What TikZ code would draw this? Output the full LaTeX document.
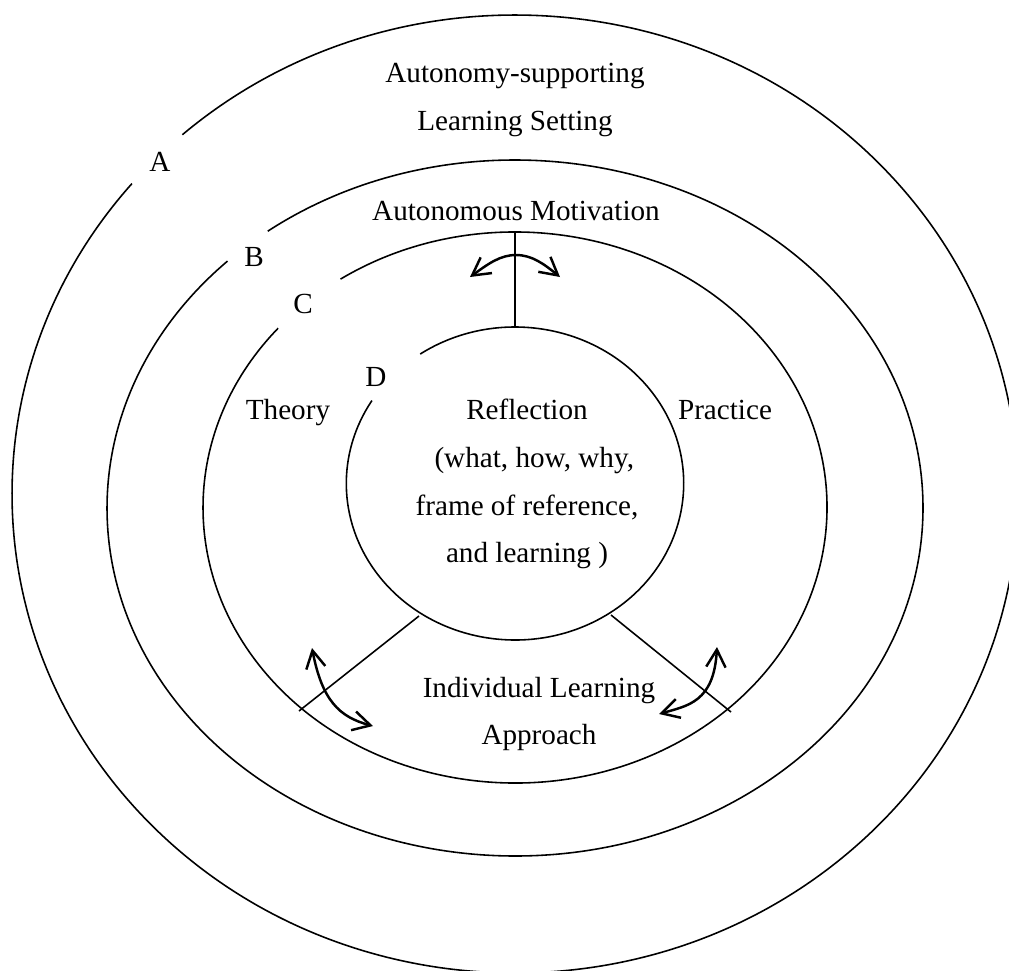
\documentclass[tikz,border=0pt]{standalone}
\usepackage{fontspec}
\setmainfont{Liberation Serif}
\usetikzlibrary{arrows.meta}

\begin{document}
\begin{tikzpicture}[x=0.02cm, y=-0.02cm]
\tikzset{ring/.style={line width=0.9pt}}
\tikzstyle{twoway} = [{Straight Barb[length=10pt,width=11pt]}-{Straight Barb[length=10pt,width=11pt]}, line width=1.4pt]
\tikzstyle{txt} = [font=\fontsize{16.6}{27.2}\selectfont, align=center, inner sep=0pt]
\useasboundingbox (0,0) rectangle (1009,971);
\draw [ring] (515,494) ++(228.6:503 and 479) arc [start angle=228.6, end angle=580.4, x radius=503, y radius=479];
\draw [ring] (515,508) ++(232.7:408 and 348) arc [start angle=232.7, end angle=585.2, x radius=408, y radius=348];
\draw [ring] (515,507.5) ++(236:312 and 275.5) arc [start angle=236, end angle=580.6, x radius=312, y radius=275.5];
\draw [ring] (515,483.5) ++(235.8:168.7 and 156.5) arc [start angle=235.8, end angle=572, x radius=168.7, y radius=156.5];
\node[txt] (setting) at (515,100) {Autonomy-supporting\\Learning Setting};
\node[txt] (motiv) at (516,211) {Autonomous Motivation};
\node[txt] (la) at (160,162) {A};
\node[txt] (lb) at (254,257) {B};
\node[txt] (lc) at (303,304) {C};
\node[txt] (ld) at (376,377) {D};
\node[txt, anchor=base] (theory) at (288,419) {Theory};
\node[txt, anchor=base] (practice) at (725,419) {Practice};
\node[txt] (refl) at (527,484) {Reflection\\\hspace*{0.5em}(what, how, why,\\frame of reference,\\and learning )};
\node[txt] (approach) at (539,714) {Individual Learning\\Approach};
\coordinate (v1) at (515,232);
\coordinate (v2) at (515,327);
\coordinate (v3) at (419,616);
\coordinate (v4) at (299,711);
\coordinate (v5) at (611,615);
\coordinate (v6) at (731,712);
\coordinate (v7) at (470,277);
\coordinate (v8) at (560,277);
\coordinate (v9) at (312,648);
\coordinate (v10) at (373,726);
\coordinate (v11) at (717,647);
\coordinate (v12) at (659,714);
\draw [ring] (v1) -- (v2);
\draw [ring] (v3) -- (v4);
\draw [ring] (v5) -- (v6);
\draw [twoway] (v7) .. controls (488,264) and (500,255) .. (516,255) .. controls (532,255) and (544,264) .. (v8);
\draw [twoway] (v9) .. controls (322,700) and (339,717) .. (v10);
\draw [twoway] (v11) .. controls (714,702) and (688,705.7) .. (v12);
\end{tikzpicture}
\end{document}
